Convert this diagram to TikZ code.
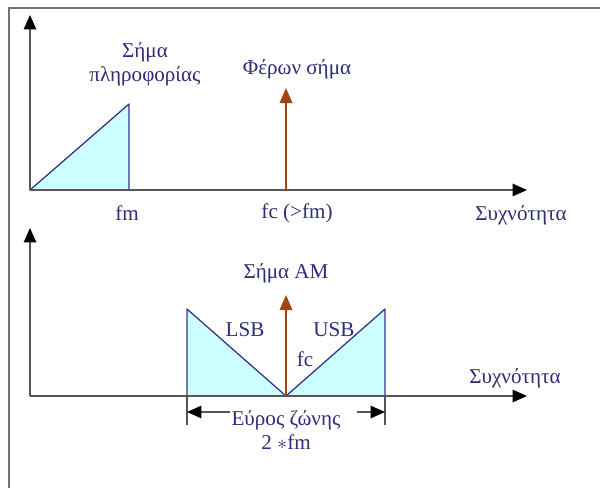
\documentclass[tikz,border=0pt]{standalone}
\usepackage{fontspec}
\setmainfont{Liberation Serif}
\usetikzlibrary{arrows.meta}
\definecolor{navy}{RGB}{45,45,120}
\definecolor{bandline}{RGB}{50,50,140}
\definecolor{bandfill}{RGB}{204,255,255}
\definecolor{carrier}{RGB}{160,70,20}
\definecolor{axisgray}{RGB}{85,85,85}
\begin{document}
\begin{tikzpicture}[x=0.025cm,y=-0.025cm,lbl/.style={text=navy,font=\fontsize{15}{17}\selectfont,inner sep=0pt,align=center},ax/.style={draw=axisgray,line width=1.2pt,-{Triangle[length=3.6mm,width=3.1mm,color=black]}},band/.style={draw=bandline,fill=bandfill,line width=0.9pt,line join=round},cw/.style={draw=carrier,line width=1pt,-{Triangle[length=3.8mm,width=3.2mm]}},tick/.style={draw=axisgray,line width=1pt}]
\useasboundingbox (0,0) rectangle (600,488);
\draw[black!55,line width=1.5pt] (9,488) |- (600,8);
% upper spectrum
\coordinate (o1) at (30,190); \coordinate (y1) at (30,15); \coordinate (x1) at (527,190);
\coordinate (fm) at (129,190); \coordinate (pk) at (129,104);
\coordinate (c1) at (286,190); \coordinate (c1t) at (286,88);
\draw[band] (o1)--(pk)--(fm)--cycle;
\draw[ax] (o1)--(y1); \draw[ax] (o1)--(x1);
\draw[cw] (c1)--(c1t);
\node[lbl] (info) at (145,64) {Σήμα\\πληροφορίας};
\node[lbl] (car) at (297,69) {Φέρων σήμα};
\node[lbl] (lfm) at (127,213) {fm};
\node[lbl] (lfc) at (297,213) {fc (>fm)};
\node[lbl] (f1) at (521,215) {Συχνότητα};
% lower spectrum
\coordinate (o2) at (30,396); \coordinate (y2) at (30,228); \coordinate (x2) at (527,396);
\coordinate (bl) at (187,396); \coordinate (tl) at (187,309);
\coordinate (c2) at (286,396); \coordinate (c2t) at (286,295);
\coordinate (br) at (385,396); \coordinate (tr) at (385,309);
\draw[band] (bl)--(tl)--(c2)--cycle;
\draw[band] (c2)--(tr)--(br)--cycle;
\draw[ax] (o2)--(y2); \draw[ax] (o2)--(x2);
\draw[cw] (c2)--(c2t);
\node[lbl] (am) at (286,273) {Σήμα AM};
\node[lbl] (lsb) at (245,330) {LSB};
\node[lbl] (usb) at (334,330) {USB};
\node[lbl] (lfc2) at (305,359) {fc};
\node[lbl] (f2) at (515,378) {Συχνότητα};
% bandwidth
\coordinate (kl) at (187,425); \coordinate (kr) at (385,425);
\coordinate (al) at (230,412); \coordinate (ar) at (357,412);
\draw[tick] (bl)--(kl); \draw[tick] (br)--(kr);
\draw[ax] (al)--(al-|bl); \draw[ax] (ar)--(ar-|br);
\node[lbl] (bw) at (286,430) {Εύρος ζώνης\\2 {$\ast$}fm};
\end{tikzpicture}
\end{document}
